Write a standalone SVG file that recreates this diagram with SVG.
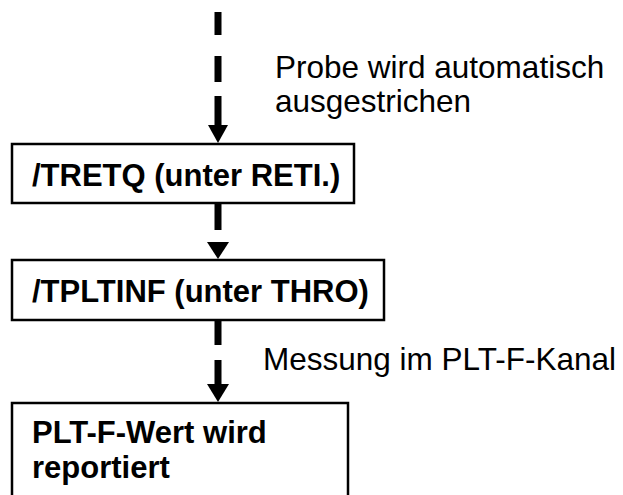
<svg xmlns="http://www.w3.org/2000/svg" width="623" height="495" viewBox="0 0 623 495">
  <style>
    .box { fill: #ffffff; stroke: #000000; stroke-width: 2.5; }
    .flow { stroke: #000000; stroke-width: 7; fill: none; }
    .head { fill: #000000; }
    .bold { font-family: "Liberation Sans", Arial, sans-serif; font-weight: bold; font-size: 31px; fill: #000000; }
    .note { font-family: "Liberation Sans", Arial, sans-serif; font-size: 31.5px; fill: #000000; }
  </style>
  <rect width="623" height="495" fill="#ffffff"/>

  <!-- connectors: dashed flow lines with solid arrowheads -->
  <g id="connectors">
    <path class="flow" d="M218 12 V35 M218 56 V82 M218 96 V126"/>
    <polygon class="head" points="208,125 228,125 218,143"/>
    <path class="flow" d="M218 204 V230"/>
    <polygon class="head" points="207,242 229,242 218,259"/>
    <path class="flow" d="M218 321 V345 M218 360 V386"/>
    <polygon class="head" points="207,384 229,384 218,402"/>
  </g>

  <g id="note-smear">
    <text class="note" x="275" y="78">Probe wird automatisch</text>
    <text class="note" x="275" y="112">ausgestrichen</text>
  </g>

  <g id="node-tretq">
    <rect class="box" x="12" y="144" width="342" height="59"/>
    <text class="bold" x="32" y="186">/TRETQ (unter RETI.)</text>
  </g>

  <g id="node-tpltinf">
    <rect class="box" x="12" y="260" width="372" height="60"/>
    <text class="bold" x="32" y="302">/TPLTINF (unter THRO)</text>
  </g>

  <g id="note-measure">
    <text class="note" x="263" y="370">Messung im PLT-F-Kanal</text>
  </g>

  <g id="node-report">
    <rect class="box" x="12" y="403" width="336" height="120"/>
    <text class="bold" x="32" y="443">PLT-F-Wert wird</text>
    <text class="bold" x="32" y="478">reportiert</text>
  </g>
</svg>
